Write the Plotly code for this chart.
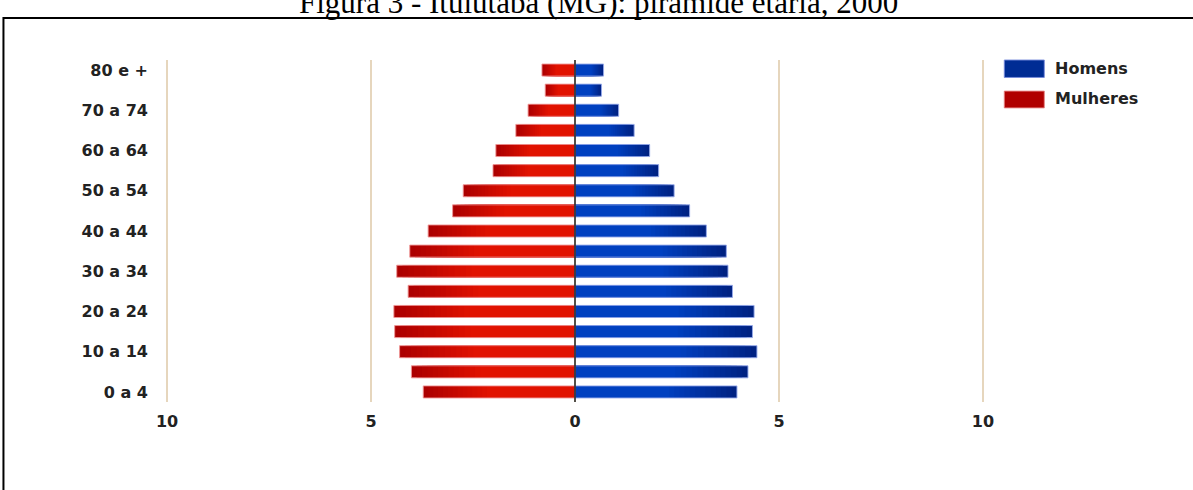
import plotly.graph_objects as go

# Age groups, bottom to top
faixas = ["0 a 4", "5 a 9", "10 a 14", "15 a 19", "20 a 24", "25 a 29", "30 a 34",
          "35 a 39", "40 a 44", "45 a 49", "50 a 54", "55 a 59", "60 a 64",
          "65 a 69", "70 a 74", "75 a 79", "80 e +"]

# Share of total population (%)
homens = [3.97, 4.24, 4.46, 4.35, 4.39, 3.86, 3.75, 3.71, 3.22, 2.81, 2.43,
          2.05, 1.83, 1.45, 1.07, 0.65, 0.70]
mulheres = [3.72, 4.01, 4.30, 4.42, 4.44, 4.09, 4.37, 4.05, 3.60, 3.00, 2.74,
            2.01, 1.94, 1.45, 1.15, 0.73, 0.81]

# Labelled age groups on the vertical axis
rotulos = ["0 a 4", "10 a 14", "20 a 24", "30 a 34", "40 a 44", "50 a 54",
           "60 a 64", "70 a 74", "80 e +"]

# Horizontal axis ticks
x_ticks = [-10, -5, 0, 5, 10]
x_ticktext = ["10", "5", "0", "5", "10"]

FONT = "DejaVu Sans"
TEXT = "#222222"

COR_H_CLARO = (0, 64, 192)
COR_H_ESCURO = (0, 34, 130)
COR_M_CLARO = (225, 18, 0)
COR_M_ESCURO = (172, 0, 0)


def mistura(a, b, t):
    r, g, bl = (round(a[i] + (b[i] - a[i]) * t) for i in range(3))
    return f"rgb({r},{g},{bl})"


fig = go.Figure()

# Shaded bars: full-length dark layer, then progressively shorter lighter layers
n_passos = 14
fracoes = [1.0 - 0.42 * k / (n_passos - 1) for k in range(n_passos)]
for serie, sinal, claro, escuro in ((mulheres, -1, COR_M_CLARO, COR_M_ESCURO),
                                    (homens, 1, COR_H_CLARO, COR_H_ESCURO)):
    for k, f in enumerate(fracoes):
        t = 1 - k / (n_passos - 1)
        fig.add_trace(go.Bar(
            y=faixas, x=[sinal * v * f for v in serie], orientation="h",
            marker=dict(color=mistura(claro, escuro, t), line=dict(width=0)),
            showlegend=False, hoverinfo="skip",
        ))

# Outline layer carrying the hover values
fig.add_trace(go.Bar(
    y=faixas, x=[-v for v in mulheres], orientation="h", name="Mulheres",
    marker=dict(color="rgba(0,0,0,0)", line=dict(width=1, color="rgba(240,150,150,0.9)")),
    customdata=mulheres, hovertemplate="%{y}: %{customdata}%<extra>Mulheres</extra>",
    showlegend=False,
))
fig.add_trace(go.Bar(
    y=faixas, x=homens, orientation="h", name="Homens",
    marker=dict(color="rgba(0,0,0,0)", line=dict(width=1, color="rgba(150,170,235,0.9)")),
    hovertemplate="%{y}: %{x}%<extra>Homens</extra>",
    showlegend=False,
))

shapes = [
    # zero line
    dict(type="line", xref="x", yref="paper", x0=0, x1=0, y0=0, y1=1,
         line=dict(color="#222222", width=1.5), layer="above"),
    # outer frame
    dict(type="rect", xref="paper", yref="paper", x0=-0.197, x1=1.30, y0=-0.30, y1=1.1228,
         line=dict(color="black", width=2), fillcolor="rgba(0,0,0,0)", layer="below"),
    # legend swatches
    dict(type="rect", xref="paper", yref="paper", x0=1.0235, x1=1.0723, y0=0.949, y1=1.0,
         line=dict(color="rgba(120,140,220,0.9)", width=1), fillcolor="rgb(0,44,148)"),
    dict(type="rect", xref="paper", yref="paper", x0=1.0235, x1=1.0723, y0=0.860, y1=0.909,
         line=dict(color="rgba(230,130,130,0.9)", width=1), fillcolor="rgb(176,0,0)"),
]

annotations = [
    dict(text="Figura 3 - Ituiutaba (MG): pirâmide etária, 2000", xref="paper", yref="paper",
         x=0.529, y=1.169, xanchor="center", yanchor="middle", showarrow=False,
         font=dict(family="Liberation Serif", size=31, color="black")),
    dict(text="Homens", xref="paper", yref="paper", x=1.083, y=0.9737, xanchor="left",
         yanchor="middle", showarrow=False, font=dict(family=FONT, size=16, color=TEXT, weight="bold")),
    dict(text="Mulheres", xref="paper", yref="paper", x=1.083, y=0.886, xanchor="left",
         yanchor="middle", showarrow=False, font=dict(family=FONT, size=16, color=TEXT, weight="bold")),
]

fig.update_layout(
    width=1193, height=490,
    margin=dict(l=165, r=208, t=60, b=88),
    paper_bgcolor="white", plot_bgcolor="white",
    barmode="overlay", bargap=0.40,
    showlegend=False,
    shapes=shapes, annotations=annotations,
    font=dict(family=FONT, color=TEXT),
    xaxis=dict(
        range=[-10.05, 10.05], tickvals=x_ticks, ticktext=x_ticktext,
        showgrid=True, gridcolor="#e6d6bd", gridwidth=2, zeroline=False,
        showline=False, ticks="", ticklabelstandoff=8,
        tickfont=dict(family=FONT, size=16, color=TEXT, weight="bold"), fixedrange=True,
    ),
    yaxis=dict(
        type="category", categoryorder="array", categoryarray=faixas,
        range=[-0.5, len(faixas) - 0.5], tickvals=rotulos, ticktext=rotulos,
        showgrid=False, zeroline=False, showline=False, ticks="", ticklabelstandoff=16,
        tickfont=dict(family=FONT, size=16, color=TEXT, weight="bold"), fixedrange=True,
    ),
)

fig.write_html("out.html")
